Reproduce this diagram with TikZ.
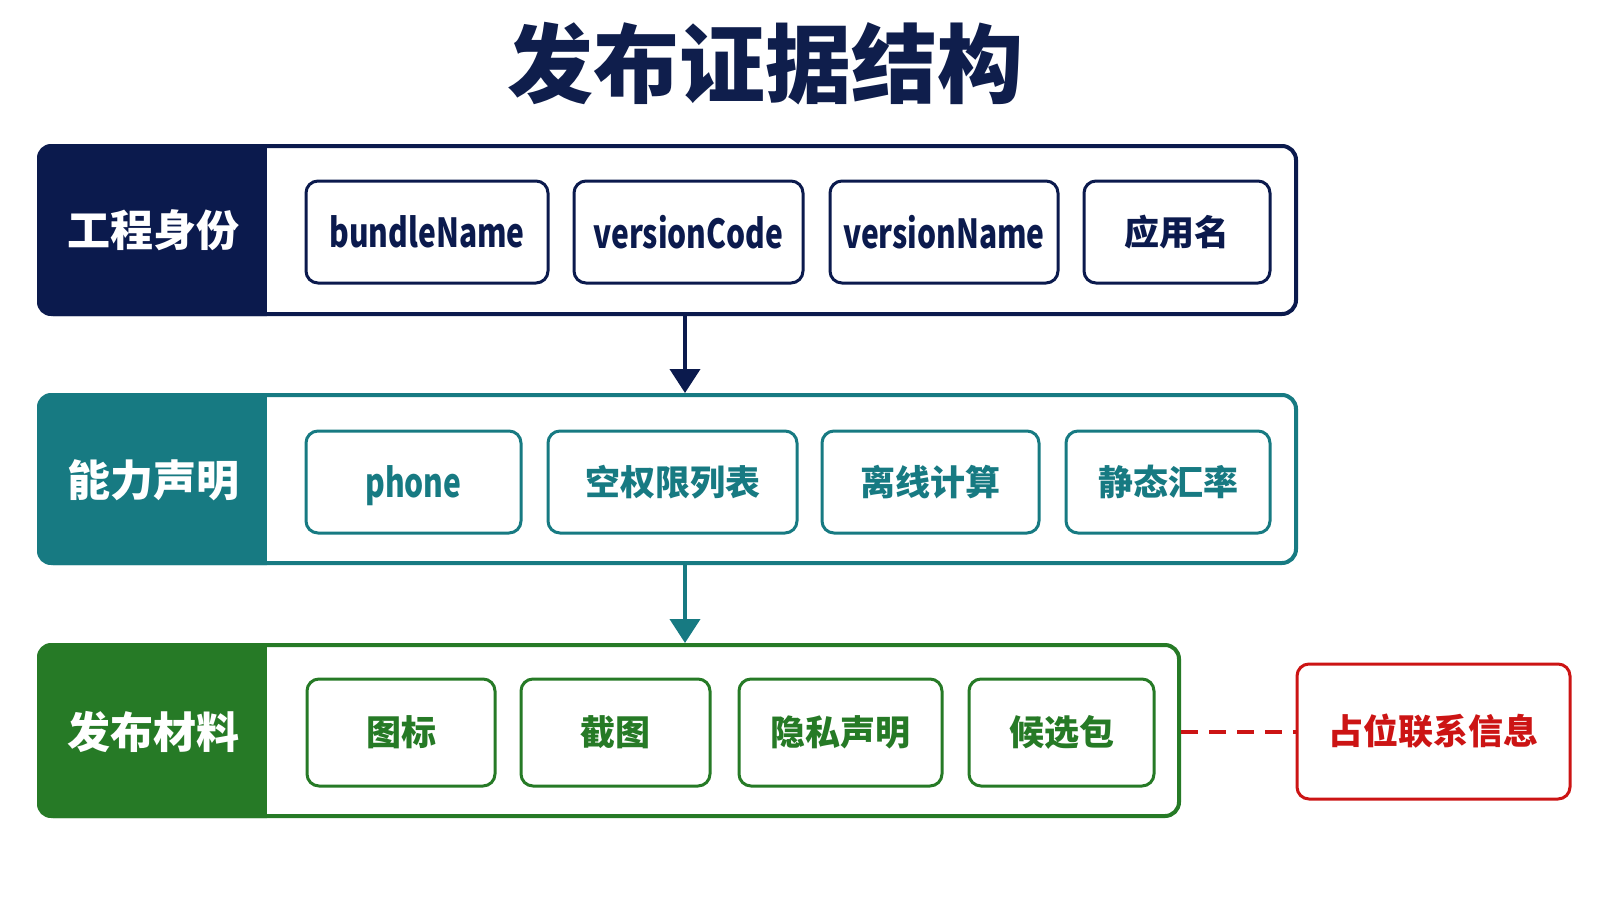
\documentclass[tikz,border=0pt]{standalone}
\usepackage{fontspec}
\newfontfamily\cjk{Noto Sans CJK SC}
\newfontfamily\latc{Noto Sans CJK SC}[FakeStretch=0.75]
\usetikzlibrary{arrows.meta}
\definecolor{navy}{HTML}{0B1A4D}
\definecolor{tealc}{HTML}{177A82}
\definecolor{greenc}{HTML}{267A26}
\definecolor{redc}{HTML}{CC1414}
\definecolor{titlec}{HTML}{0F1E4C}
\newcommand\mybox[7]{\node[#6, minimum width={#4-#2}, minimum height={#5-#3}] (#1) at ({(#2+#4)/2},{(#3+#5)/2}) {#7};}
\newcommand\lt[1]{{\latc\bfseries\fontsize{40}{40}\selectfont #1}}
\begin{document}
\begin{tikzpicture}[x=1pt,y=-1pt,
  outer/.style={draw=#1, line width=4pt, rounded corners=14pt, fill=white, inner sep=0pt},
  item/.style={draw=#1, text=#1, line width=3pt, rounded corners=12pt, fill=white, inner sep=0pt,
    font=\cjk\bfseries\fontsize{35}{35}\selectfont},
  lab/.style={text=white, font=\cjk\bfseries\fontsize{43}{43}\selectfont},
  flow/.style={draw=#1, line width=4pt, -{Triangle[width=30pt,length=24pt]}}
]
\useasboundingbox (0,0) rectangle (1600,900);
\fill[white] (0,0) rectangle (1600,900);
% title
\node[text=titlec, font=\cjk\bfseries\fontsize{86}{86}\selectfont] (title) at (765,64) {发布证据结构};

% row 1
\mybox{r1}{39}{146}{1296}{314}{outer=navy}{}
\begin{scope}
\clip[rounded corners=14pt] (r1.north west) rectangle (r1.south east);
\fill[navy] (30,140) rectangle (267,320);
\end{scope}
\node[lab] (l1) at (153,230) {工程身份};
\mybox{a1}{306}{181}{548}{283}{item=navy}{\lt{bundleName}}
\mybox{a2}{574}{181}{803}{283}{item=navy}{\lt{versionCode}}
\mybox{a3}{830}{181}{1058}{283}{item=navy}{\lt{versionName}}
\mybox{a4}{1084}{181}{1270}{283}{item=navy}{应用名}

% row 2
\mybox{r2}{39}{395}{1296}{563}{outer=tealc}{}
\begin{scope}
\clip[rounded corners=14pt] (r2.north west) rectangle (r2.south east);
\fill[tealc] (30,390) rectangle (267,570);
\end{scope}
\node[lab] (l2) at (153,480) {能力声明};
\mybox{b1}{306}{431}{521}{533}{item=tealc}{\raisebox{0pt}[\height][0pt]{\lt{phone}}}
\mybox{b2}{548}{431}{797}{533}{item=tealc}{空权限列表}
\mybox{b3}{822}{431}{1039}{533}{item=tealc}{离线计算}
\mybox{b4}{1066}{431}{1270}{533}{item=tealc}{静态汇率}

% row 3
\mybox{r3}{39}{645}{1179}{816}{outer=greenc}{}
\begin{scope}
\clip[rounded corners=14pt] (r3.north west) rectangle (r3.south east);
\fill[greenc] (30,640) rectangle (267,820);
\end{scope}
\node[lab] (l3) at (153,732) {发布材料};
\mybox{c1}{307}{679}{495}{786}{item=greenc}{图标}
\mybox{c2}{521}{679}{710}{786}{item=greenc}{截图}
\mybox{c3}{739}{679}{942}{786}{item=greenc}{隐私声明}
\mybox{c4}{969}{679}{1154}{786}{item=greenc}{候选包}

% side note
\mybox{note}{1297}{664}{1570}{799}{item=redc}{占位联系信息}

% connectors
\coordinate (ax) at (685,0);
\draw[flow=navy] (r1.south -| ax) -- (r2.north -| ax);
\draw[flow=tealc] (r2.south -| ax) -- (r3.north -| ax);
\draw[redc, line width=4pt, dash pattern=on 17pt off 11pt] (r3.east |- note.west) -- (note.west);
\end{tikzpicture}
\end{document}
